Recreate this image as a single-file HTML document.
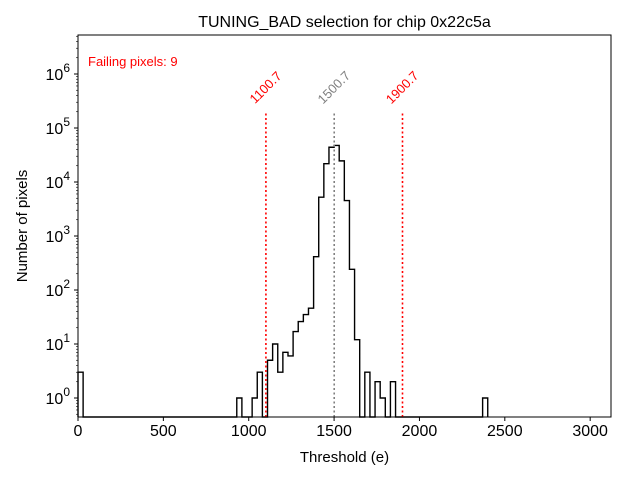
<!DOCTYPE html>
<html><head><meta charset="utf-8"><style>
body{margin:0;background:#fff;}
svg{font-family:"Liberation Sans","DejaVu Sans",sans-serif;}
</style></head><body>
<svg id="chart" width="640" height="480" viewBox="0 0 640 480" xmlns="http://www.w3.org/2000/svg">
<rect width="640" height="480" fill="#fff"/>
<text x="344.5" y="27" font-size="16" text-anchor="middle">TUNING_BAD selection for chip 0x22c5a</text>
<text x="344.5" y="462" font-size="15" text-anchor="middle">Threshold (e)</text>
<text x="27" y="226" font-size="15" text-anchor="middle" transform="rotate(-90 27 226)">Number of pixels</text>
<text x="88" y="66" font-size="13" fill="red">Failing pixels: 9</text>
<g id="marks"></g>
<g id="axes"></g>
</svg>
<script>
const binWidth = 30;
const binStarts = [0,31,34,35,37,38,39,40,41,42,43,44,45,46,47,48,49,50,51,52,53,54,56,58,59,61,79];
const binCounts = [3,1,1,3,5,10,3,7,6,17,26,35,46,414,5223,21800,44000,47500,24600,4530,241,12,3,2,1,2,1];
const xTicks = [0,500,1000,1500,2000,2500,3000];
const yTickExps = [0,1,2,3,4,5,6];
const cutLines = [1100.7,1500.7,1900.7];
const cutLabels = ["1100.7","1500.7","1900.7"];
const cutColors = ["red","gray","red"];
const cutTop = 2e5;

const L=78,R=611,T=35,B=417;
const X0=0,X1=3122;
const LMIN=-0.352,LMAX=6.722;
const sx=v=>L+(v-X0)/(X1-X0)*(R-L);
const sy=v=>B-(Math.log10(v)-LMIN)/(LMAX-LMIN)*(B-T);
const NS="http://www.w3.org/2000/svg";
const marks=document.getElementById('marks');
const axes=document.getElementById('axes');
function mk(tag,attrs,parent){const e=document.createElementNS(NS,tag);for(const k in attrs)e.setAttribute(k,attrs[k]);parent.appendChild(e);return e;}

const nb=Math.max(...binStarts)+1;
const counts=new Array(nb+1).fill(0);
binStarts.forEach((b,i)=>counts[b]=binCounts[i]);
let d="";
for(let i=0;i<nb;i++){
  const x=sx(i*binWidth),x2=sx((i+1)*binWidth);
  const y=counts[i]>0?sy(counts[i]):B;
  if(i===0)d+=`M${x},${B}`;
  d+=`L${x},${y}L${x2},${y}`;
}
d+=`L${sx(nb*binWidth)},${B}`;
const hist=mk('path',{d:d,fill:'none',stroke:'#000','stroke-width':1.4},marks);



cutLines.forEach((v,i)=>{
  const x=sx(v);
  const ln=mk('line',{x1:x,x2:x,y1:B,y2:sy(cutTop),stroke:cutColors[i],'stroke-width':1.6,'stroke-dasharray':'2,2.5'},marks);
  
  
  const ty=sy(cutTop)-24;
  const t=mk('text',{x:x,y:ty+4,'font-size':13,'text-anchor':'middle',fill:cutColors[i],transform:`rotate(-45 ${x} ${ty})`},marks);
  t.textContent=cutLabels[i];
  
  
});

const fr=mk('rect',{x:L,y:T,width:R-L,height:B-T,fill:'none',stroke:'#000','stroke-width':1},axes);



xTicks.forEach(v=>{
  const x=sx(v);
  mk('line',{x1:x,x2:x,y1:B,y2:B+4,stroke:'#000'},axes);
  const t=mk('text',{x:x,y:B+19,'font-size':16,'text-anchor':'middle'},axes);
  t.textContent=v;
  
  
});

yTickExps.forEach(e=>{
  const y=sy(Math.pow(10,e));
  mk('line',{x1:L-4,x2:L,y1:y,y2:y,stroke:'#000'},axes);
  const t=mk('text',{x:L-8,y:y+6,'font-size':16,'text-anchor':'end'},axes);
  
  
  t.textContent='10';
  const s=mk('tspan',{dy:-8,'font-size':12},t);
  s.textContent=e;
});
for(let e=-1;e<=6;e++){
  for(let m=2;m<=9;m++){
    const v=m*Math.pow(10,e);
    const lv=Math.log10(v);
    if(lv<LMIN||lv>LMAX)continue;
    const y=sy(v);
    mk('line',{x1:L-2,x2:L,y1:y,y2:y,stroke:'#000','stroke-width':0.6},axes);
  }
}
</script>
</body></html>
